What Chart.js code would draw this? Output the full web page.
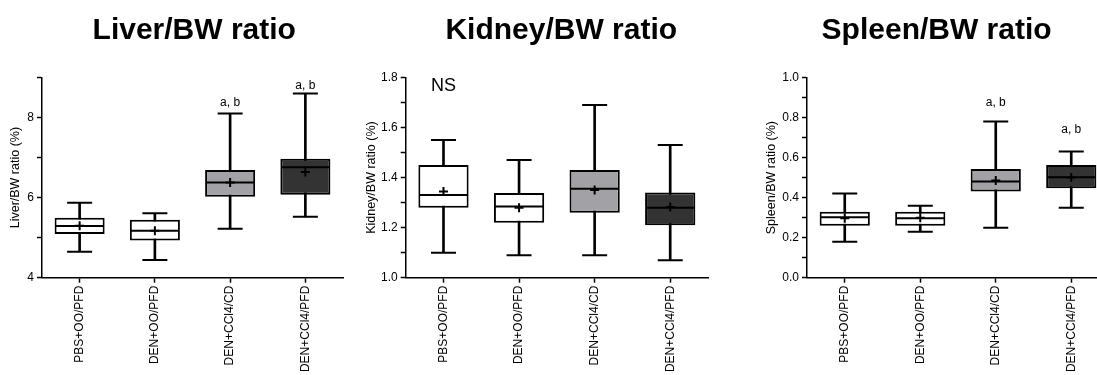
<!DOCTYPE html>
<html>
<head>
<meta charset="utf-8">
<title>Organ / body weight ratios</title>
<script src="https://cdn.jsdelivr.net/npm/chart.js@4.4.1/dist/chart.umd.min.js"></script>
<style>
  html, body { margin: 0; padding: 0; background: #fff; overflow: hidden; }
  body { width: 1097px; height: 375px; position: relative; }
  canvas { position: absolute; top: 0; }
</style>
</head>
<body>
<canvas id="liver" width="380" height="375" style="left:0"></canvas>
<canvas id="kidney" width="398" height="375" style="left:360px"></canvas>
<canvas id="spleen" width="397" height="375" style="left:740px"></canvas>

<script>
const groups = ['PBS+OO/PFD', 'DEN+OO/PFD', 'DEN+CCl4/CD', 'DEN+CCl4/PFD'];
const boxFill = ['#ffffff', '#ffffff', '#a2a2a6', '#333333'];

// liver weight / body weight (%)
const liverMin = [4.65, 4.44, 5.22, 5.52];
const liverQ1 = [5.09, 4.93, 6.02, 6.07];
const liverMedian = [5.29, 5.17, 6.38, 6.76];
const liverQ3 = [5.50, 5.45, 6.69, 6.97];
const liverMax = [5.87, 5.61, 8.10, 8.60];
const liverMean = [5.30, 5.17, 6.38, 6.64];
const liverSig = ['', '', 'a, b', 'a, b'];

// kidney weight / body weight (%)
const kidneyMin = [1.10, 1.09, 1.09, 1.07];
const kidneyQ1 = [1.28, 1.22, 1.26, 1.21];
const kidneyMedian = [1.33, 1.285, 1.355, 1.28];
const kidneyQ3 = [1.45, 1.338, 1.43, 1.34];
const kidneyMax = [1.55, 1.47, 1.69, 1.53];
const kidneyMean = [1.344, 1.28, 1.35, 1.283];

// spleen weight / body weight (%)
const spleenMin = [0.18, 0.23, 0.25, 0.35];
const spleenQ1 = [0.26, 0.26, 0.43, 0.447];
const spleenMedian = [0.302, 0.297, 0.48, 0.502];
const spleenQ3 = [0.33, 0.33, 0.543, 0.563];
const spleenMax = [0.42, 0.36, 0.78, 0.63];
const spleenMean = [0.297, 0.30, 0.485, 0.50];
const spleenSig = ['', '', 'a, b', 'a, b'];

const FONT = '"Liberation Sans", Arial, Helvetica, sans-serif';

// letters above whiskers, plus a free note in the corner
const sigLabels = {
  id: 'sigLabels',
  afterDatasetsDraw(chart, args, opts) {
    const { ctx, scales: { x, y } } = chart;
    ctx.save();
    ctx.fillStyle = '#000';
    ctx.textAlign = 'center';
    ctx.textBaseline = 'middle';
    ctx.font = '12px ' + FONT;
    (opts.marks || []).forEach((m, i) => {
      if (!m) return;
      ctx.fillText(m, x.getPixelForValue(i), y.getPixelForValue(opts.top[i]) - opts.gap[i]);
    });
    if (opts.note) {
      ctx.font = '18px ' + FONT;
      ctx.fillText(opts.note, x.getPixelForValue(0), chart.chartArea.top + 9);
    }
    ctx.restore();
  }
};

function evenLabel(v) {
  const k = Math.round(v * 10);
  return k % 2 === 0 ? v.toFixed(1) : '';
}

function makePanel(id, p) {
  const pointSet = (data, style, radius, order) => ({
    type: 'line',
    data,
    showLine: false,
    pointStyle: style,
    pointRadius: radius,
    pointBorderWidth: 2,
    pointBorderColor: '#000',
    pointBackgroundColor: '#000',
    order
  });

  const scales = {
    x: {
      offset: true,
      grid: { drawOnChartArea: false, drawTicks: true, tickLength: 5, offset: false, color: '#000', tickWidth: 1.5 },
      border: { display: true, color: '#000', width: 1.5 },
      ticks: {
        color: '#000',
        font: { family: FONT, size: 12 },
        minRotation: 90,
        maxRotation: 90,
        autoSkip: false,
        padding: 3
      },
      afterFit: s => { s.height = 97.3; }
    },
    y: {
      min: p.yMin,
      max: p.yMax,
      grid: { drawOnChartArea: false, drawTicks: true, tickLength: 5, color: '#000', tickWidth: 1.5 },
      border: { display: true, color: '#000', width: 1.5 },
      ticks: {
        stepSize: p.step,
        color: '#000',
        font: { family: FONT, size: 12 },
        padding: 3,
        callback: p.tickLabel
      },
      title: {
        display: true,
        text: p.yTitle,
        color: '#000',
        font: { family: FONT, size: 12.5 },
        padding: { top: 0, bottom: 0 }
      },
      afterFit: s => { s.width = p.yWidth; }
    }
  };

  if (p.spacer) {
    // empty axis on the right so the title can sit off the plot centre
    scales.spacer = {
      type: 'linear',
      position: 'right',
      grid: { display: false, drawTicks: false },
      border: { display: false },
      ticks: { display: false },
      afterFit: s => { s.width = p.spacer; }
    };
  }

  return new Chart(document.getElementById(id), {
    type: 'bar',
    data: {
      labels: groups,
      datasets: [
        {
          // whisker stem
          data: p.min.map((v, i) => [v, p.max[i]]),
          backgroundColor: '#000',
          borderWidth: 0,
          barThickness: 2,
          grouped: false,
          order: 5
        },
        {
          // interquartile box
          data: p.q1.map((v, i) => [v, p.q3[i]]),
          backgroundColor: boxFill,
          borderColor: '#000',
          borderWidth: 2,
          borderSkipped: false,
          barPercentage: 0.665,
          categoryPercentage: 1,
          grouped: false,
          order: 4
        },
        pointSet(p.median, 'line', 24, 3),
        pointSet(p.max, 'line', 12.5, 2),
        pointSet(p.min, 'line', 12.5, 2),
        pointSet(p.mean, 'cross', 4.5, 1)
      ]
    },
    options: {
      responsive: false,
      animation: false,
      events: [],
      layout: { padding: { left: p.padLeft, right: p.padRight || 0, top: 0, bottom: 0 } },
      plugins: {
        legend: { display: false },
        tooltip: { enabled: false },
        title: {
          display: true,
          text: p.title,
          color: '#000',
          font: { family: FONT, size: 30, weight: 'bold' },
          padding: { top: 13, bottom: 28.5 }
        },
        sigLabels: { marks: p.sig, top: p.max, gap: p.sigGap || [0, 0, 0, 0], note: p.note }
      },
      scales
    },
    plugins: [sigLabels]
  });
}

makePanel('liver', {
  title: 'Liver/BW ratio',
  yTitle: 'Liver/BW ratio (%)',
  min: liverMin, q1: liverQ1, median: liverMedian, q3: liverQ3, max: liverMax, mean: liverMean,
  sig: liverSig, sigGap: [0, 0, 10.5, 7.5],
  yMin: 4, yMax: 9, step: 1,
  tickLabel: v => (Math.round(v) % 2 === 0 ? String(v) : ''),
  padLeft: 8.5, yWidth: 33.5, spacer: 37
});

makePanel('kidney', {
  title: 'Kidney/BW ratio',
  yTitle: 'Kidney/BW ratio (%)',
  min: kidneyMin, q1: kidneyQ1, median: kidneyMedian, q3: kidneyQ3, max: kidneyMax, mean: kidneyMean,
  note: 'NS',
  yMin: 1.0, yMax: 1.8, step: 0.1,
  tickLabel: evenLabel,
  padLeft: 4.5, yWidth: 41.2, spacer: 50
});

makePanel('spleen', {
  title: 'Spleen/BW ratio',
  yTitle: 'Spleen/BW ratio (%)',
  min: spleenMin, q1: spleenQ1, median: spleenMedian, q3: spleenQ3, max: spleenMax, mean: spleenMean,
  sig: spleenSig, sigGap: [0, 0, 18.5, 21.5],
  yMin: 0, yMax: 1.0, step: 0.1,
  tickLabel: evenLabel,
  padLeft: 24.2, padRight: 28, yWidth: 42.8
});
</script>
</body>
</html>
